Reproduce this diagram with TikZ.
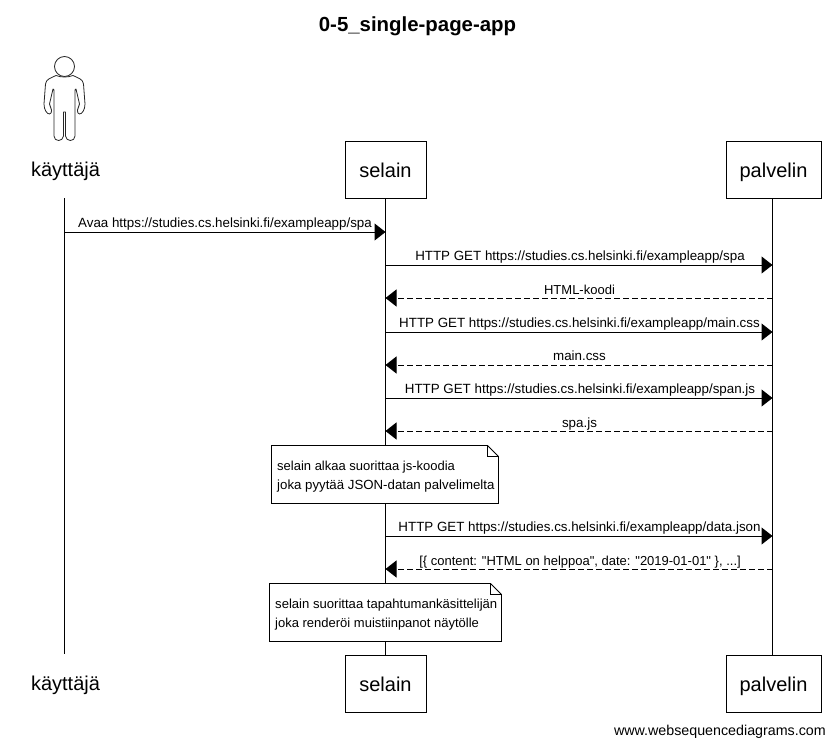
\documentclass[tikz,border=0pt]{standalone}
\usepackage{fontspec}
\setmainfont{Liberation Sans}[Ligatures=TeXOff]
\usetikzlibrary{arrows.meta}
\tikzset{
  x=1pt,y=-1pt,
  lifeline/.style={draw=black,line width=1pt},
  actorbox/.style={draw=black,fill=white,line width=0.8pt,minimum height=57pt,inner sep=0pt,text height=16pt,text depth=1pt,font=\fontsize{20}{24}\selectfont,anchor=center},
  actorname/.style={inner sep=0pt,font=\fontsize{20}{24}\selectfont,anchor=center},
  msg/.style={draw=black,line width=1pt,-{Triangle[length=11pt,width=17pt]}},
  reply/.style={msg,dash pattern=on 6pt off 3pt},
  msglabel/.style={inner sep=0pt,font=\fontsize{13.35}{16}\selectfont,anchor=base},
  notetext/.style={inner sep=0pt,font=\fontsize{13}{16}\selectfont,anchor=base west},
  notebox/.style={draw=black,fill=white,line width=0.8pt},
  notefold/.style={draw=black,line width=0.6pt},
  figure/.style={draw=black!85,line width=0.8pt,fill=white,line join=round}
}
\begin{document}
\begin{tikzpicture}
\useasboundingbox (0,0) rectangle (834,746);
\node[inner sep=0pt,font=\fontsize{20.4}{24}\selectfont\bfseries,anchor=center] (title) at (417.5,26) {0-5\_single-page-app};

% lifelines
\coordinate (kt) at (64.5,198); \coordinate (kb) at (64.5,654);
\coordinate (st) at (385.5,198); \coordinate (sb) at (385.5,655);
\coordinate (pt) at (772.5,198); \coordinate (pb) at (772.5,655);
\draw[lifeline] (kt) -- (kb);
\draw[lifeline] (st) -- (sb);
\draw[lifeline] (pt) -- (pb);

% actor figure
\draw[figure] (56,75.5)
  .. controls (51,78) and (46,79) .. (45.5,84)
  -- (44,104) .. controls (44,110) and (47,114) .. (49.5,114)
  .. controls (51,114) and (52,112) .. (51.5,110)
  -- (49.5,104) -- (53,89)
  -- (54,90) -- (54,136) .. controls (54,142) and (63,142) .. (63.5,136)
  -- (63.5,112) -- (65.5,112) -- (65.5,136)
  .. controls (66,142) and (75,142) .. (75,136)
  -- (75,90) -- (76,89) -- (79.5,104) -- (77.5,110)
  .. controls (77,112) and (78,114) .. (79.5,114)
  .. controls (82,114) and (85,110) .. (85,104)
  -- (83.5,84) .. controls (83,79) and (78,78) .. (73,75.5)
  .. controls (68,77.5) and (61,77.5) .. (56,75.5) -- cycle;
\draw[figure] (64.5,66.5) circle (10);

% participants
\node[actorname] (k1) at (65.5,171.5) {käyttäjä};
\node[actorbox,minimum width=81pt] (s1) at (385.5,169.5) {selain};
\node[actorbox,minimum width=95pt] (p1) at (773.5,169.5) {palvelin};
\node[actorname] (k2) at (65.5,685.5) {käyttäjä};
\node[actorbox,minimum width=81pt] (s2) at (385.5,683.5) {selain};
\node[actorbox,minimum width=95pt] (p2) at (773.5,683.5) {palvelin};

% messages
\coordinate (m1k) at (64.5,232); \coordinate (m1s) at (385.5,232);
\draw[msg] (m1k) -- (m1s);
\node[msglabel] (l1) at (225,227) {Avaa https://studies.cs.helsinki.fi/exampleapp/spa};

\coordinate (m2s) at (385.5,265); \coordinate (m2p) at (772.5,265);
\draw[msg] (m2s) -- (m2p);
\node[msglabel] (l2) at (580,260) {HTTP GET https://studies.cs.helsinki.fi/exampleapp/spa};

\coordinate (m3p) at (772.5,298); \coordinate (m3s) at (385.5,298);
\draw[reply] (m3p) -- (m3s);
\node[msglabel,font=\fontsize{13}{16}\selectfont] (l3) at (579.5,294) {HTML-koodi};

\coordinate (m4s) at (385.5,332); \coordinate (m4p) at (772.5,332);
\draw[msg] (m4s) -- (m4p);
\node[msglabel] (l4) at (579.5,327) {HTTP GET https://studies.cs.helsinki.fi/exampleapp/main.css};

\coordinate (m5p) at (772.5,365); \coordinate (m5s) at (385.5,365);
\draw[reply] (m5p) -- (m5s);
\node[msglabel] (l5) at (579.5,360) {main.css};

\coordinate (m6s) at (385.5,398); \coordinate (m6p) at (772.5,398);
\draw[msg] (m6s) -- (m6p);
\node[msglabel] (l6) at (580,393) {HTTP GET https://studies.cs.helsinki.fi/exampleapp/span.js};

\coordinate (m7p) at (772.5,431); \coordinate (m7s) at (385.5,431);
\draw[reply] (m7p) -- (m7s);
\node[msglabel] (l7) at (579.5,427) {spa.js};

\coordinate (m8s) at (385.5,536); \coordinate (m8p) at (772.5,536);
\draw[msg] (m8s) -- (m8p);
\node[msglabel] (l8) at (579.5,531) {HTTP GET https://studies.cs.helsinki.fi/exampleapp/data.json};

\coordinate (m9p) at (772.5,569); \coordinate (m9s) at (385.5,569);
\draw[reply] (m9p) -- (m9s);
\node[msglabel,font=\fontsize{13}{16}\selectfont] (l9) at (580,565) {[\{ content: "HTML on helppoa", date: "2019-01-01" \}, ...]};

% notes
\draw[notebox] (271.5,445.5) -- (487.5,445.5) -- (498.5,456.5) -- (498.5,503.5) -- (271.5,503.5) -- cycle;
\draw[notefold] (487.5,445.5) -- (487.5,456.5) -- (498.5,456.5);
\node[notetext] (n1a) at (277,470.5) {selain alkaa suorittaa js-koodia};
\node[notetext,font=\fontsize{13.25}{16}\selectfont] (n1b) at (277,489) {joka pyytää JSON-datan palvelimelta};

\draw[notebox] (269.5,583.5) -- (490.5,583.5) -- (501.5,594.5) -- (501.5,641.5) -- (269.5,641.5) -- cycle;
\draw[notefold] (490.5,583.5) -- (490.5,594.5) -- (501.5,594.5);
\node[notetext,font=\fontsize{13.1}{16}\selectfont] (n2a) at (275,608) {selain suorittaa tapahtumankäsittelijän};
\node[notetext] (n2b) at (275,627) {joka renderöi muistiinpanot näytölle};

\node[inner sep=0pt,font=\fontsize{14.27}{16}\selectfont,anchor=base east] (wm) at (826,735) {www.websequencediagrams.com};
\end{tikzpicture}
\end{document}
